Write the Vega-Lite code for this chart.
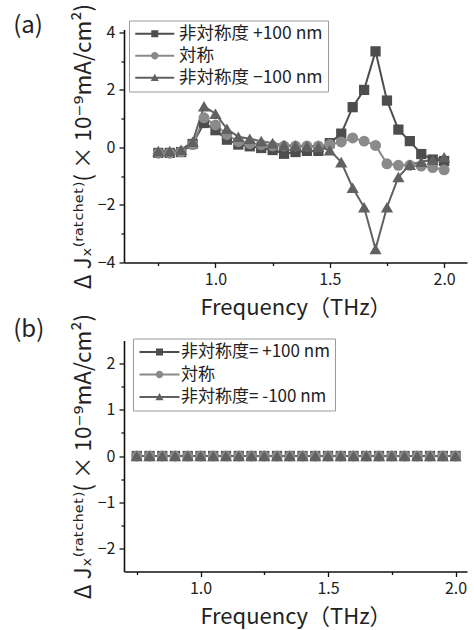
{
  "$schema": "https://vega.github.io/schema/vega-lite/v6.json",
  "background": "white",
  "padding": {"left": 13, "top": 2.5, "right": 5, "bottom": 5},
  "bounds": "flush",
  "spacing": 78,
  "config": {
    "font": "Noto Sans CJK JP",
    "view": {"stroke": null},
    "axis": {
      "grid": false, "domainColor": "#111", "domainWidth": 1.6, "tickColor": "#111", "tickWidth": 1.3,
      "labelFontSize": 16, "labelColor": "#222", "labelFont": "Noto Sans CJK JP", "labelPadding": 4,
      "titleFontSize": 22.5, "titleFontWeight": "normal", "titleColor": "#222", "titleFont": "'Noto Sans CJK JP', 'DejaVu Sans', sans-serif"
    },
    "legend": {
      "title": null, "orient": "none", "strokeColor": "#9a9a9a", "fillColor": "white", "padding": 4.5,
      "labelFontSize": 17.5, "labelColor": "#222", "labelFont": "Noto Sans CJK JP",
      "symbolSize": 196, "symbolStrokeWidth": 0, "symbolOffset": 0, "labelOffset": 28, "symbolOpacity": 1
    },
    "title": {"fontSize": 24, "fontWeight": "normal", "anchor": "start", "color": "#222", "font": "Noto Sans CJK JP", "frame": "bounds"}
  },
  "resolve": {"scale": {"color": "independent", "shape": "independent"}, "legend": {"color": "independent", "shape": "independent"}},
  "datasets": {
    "a": [
      {"s": "非対称度 +100 nm", "f": 0.75, "j": -0.19}, {"s": "非対称度 +100 nm", "f": 0.8, "j": -0.19}, {"s": "非対称度 +100 nm", "f": 0.85, "j": -0.16}, {"s": "非対称度 +100 nm", "f": 0.9, "j": 0.12}, {"s": "非対称度 +100 nm", "f": 0.95, "j": 0.85}, {"s": "非対称度 +100 nm", "f": 1.0, "j": 0.6}, {"s": "非対称度 +100 nm", "f": 1.05, "j": 0.27}, {"s": "非対称度 +100 nm", "f": 1.1, "j": 0.1}, {"s": "非対称度 +100 nm", "f": 1.15, "j": 0.04}, {"s": "非対称度 +100 nm", "f": 1.2, "j": -0.02}, {"s": "非対称度 +100 nm", "f": 1.25, "j": -0.09}, {"s": "非対称度 +100 nm", "f": 1.3, "j": -0.22}, {"s": "非対称度 +100 nm", "f": 1.35, "j": -0.16}, {"s": "非対称度 +100 nm", "f": 1.4, "j": -0.12}, {"s": "非対称度 +100 nm", "f": 1.45, "j": -0.12}, {"s": "非対称度 +100 nm", "f": 1.5, "j": 0.15}, {"s": "非対称度 +100 nm", "f": 1.55, "j": 0.48}, {"s": "非対称度 +100 nm", "f": 1.6, "j": 1.4}, {"s": "非対称度 +100 nm", "f": 1.65, "j": 2.0}, {"s": "非対称度 +100 nm", "f": 1.7, "j": 3.34}, {"s": "非対称度 +100 nm", "f": 1.75, "j": 1.63}, {"s": "非対称度 +100 nm", "f": 1.8, "j": 0.62}, {"s": "非対称度 +100 nm", "f": 1.85, "j": 0.22}, {"s": "非対称度 +100 nm", "f": 1.9, "j": -0.23}, {"s": "非対称度 +100 nm", "f": 1.95, "j": -0.42}, {"s": "非対称度 +100 nm", "f": 2.0, "j": -0.47},
      {"s": "対称", "f": 0.75, "j": -0.2}, {"s": "対称", "f": 0.8, "j": -0.2}, {"s": "対称", "f": 0.85, "j": -0.15}, {"s": "対称", "f": 0.9, "j": 0.1}, {"s": "対称", "f": 0.95, "j": 1.03}, {"s": "対称", "f": 1.0, "j": 0.78}, {"s": "対称", "f": 1.05, "j": 0.45}, {"s": "対称", "f": 1.1, "j": 0.2}, {"s": "対称", "f": 1.15, "j": 0.13}, {"s": "対称", "f": 1.2, "j": 0.1}, {"s": "対称", "f": 1.25, "j": 0.05}, {"s": "対称", "f": 1.3, "j": 0.05}, {"s": "対称", "f": 1.35, "j": 0.05}, {"s": "対称", "f": 1.4, "j": 0.05}, {"s": "対称", "f": 1.45, "j": 0.05}, {"s": "対称", "f": 1.5, "j": 0.1}, {"s": "対称", "f": 1.55, "j": 0.19}, {"s": "対称", "f": 1.6, "j": 0.33}, {"s": "対称", "f": 1.65, "j": 0.22}, {"s": "対称", "f": 1.7, "j": 0.07}, {"s": "対称", "f": 1.75, "j": -0.57}, {"s": "対称", "f": 1.8, "j": -0.62}, {"s": "対称", "f": 1.85, "j": -0.62}, {"s": "対称", "f": 1.9, "j": -0.65}, {"s": "対称", "f": 1.95, "j": -0.7}, {"s": "対称", "f": 2.0, "j": -0.78},
      {"s": "非対称度 −100 nm", "f": 0.75, "j": -0.13}, {"s": "非対称度 −100 nm", "f": 0.8, "j": -0.13}, {"s": "非対称度 −100 nm", "f": 0.85, "j": -0.08}, {"s": "非対称度 −100 nm", "f": 0.9, "j": 0.2}, {"s": "非対称度 −100 nm", "f": 0.95, "j": 1.43}, {"s": "非対称度 −100 nm", "f": 1.0, "j": 1.17}, {"s": "非対称度 −100 nm", "f": 1.05, "j": 0.65}, {"s": "非対称度 −100 nm", "f": 1.1, "j": 0.37}, {"s": "非対称度 −100 nm", "f": 1.15, "j": 0.3}, {"s": "非対称度 −100 nm", "f": 1.2, "j": 0.22}, {"s": "非対称度 −100 nm", "f": 1.25, "j": 0.15}, {"s": "非対称度 −100 nm", "f": 1.3, "j": 0.08}, {"s": "非対称度 −100 nm", "f": 1.35, "j": 0.06}, {"s": "非対称度 −100 nm", "f": 1.4, "j": 0.04}, {"s": "非対称度 −100 nm", "f": 1.45, "j": 0.02}, {"s": "非対称度 −100 nm", "f": 1.5, "j": -0.1}, {"s": "非対称度 −100 nm", "f": 1.55, "j": -0.51}, {"s": "非対称度 −100 nm", "f": 1.6, "j": -1.4}, {"s": "非対称度 −100 nm", "f": 1.65, "j": -2.08}, {"s": "非対称度 −100 nm", "f": 1.7, "j": -3.53}, {"s": "非対称度 −100 nm", "f": 1.75, "j": -2.08}, {"s": "非対称度 −100 nm", "f": 1.8, "j": -1.03}, {"s": "非対称度 −100 nm", "f": 1.85, "j": -0.6}, {"s": "非対称度 −100 nm", "f": 1.9, "j": -0.5}, {"s": "非対称度 −100 nm", "f": 1.95, "j": -0.43}, {"s": "非対称度 −100 nm", "f": 2.0, "j": -0.34}
    ],
    "b": [
      {"s": "非対称度= +100 nm", "f": 0.75, "j": 0}, {"s": "非対称度= +100 nm", "f": 0.8, "j": 0}, {"s": "非対称度= +100 nm", "f": 0.85, "j": 0}, {"s": "非対称度= +100 nm", "f": 0.9, "j": 0}, {"s": "非対称度= +100 nm", "f": 0.95, "j": 0}, {"s": "非対称度= +100 nm", "f": 1.0, "j": 0}, {"s": "非対称度= +100 nm", "f": 1.05, "j": 0}, {"s": "非対称度= +100 nm", "f": 1.1, "j": 0}, {"s": "非対称度= +100 nm", "f": 1.15, "j": 0}, {"s": "非対称度= +100 nm", "f": 1.2, "j": 0}, {"s": "非対称度= +100 nm", "f": 1.25, "j": 0}, {"s": "非対称度= +100 nm", "f": 1.3, "j": 0}, {"s": "非対称度= +100 nm", "f": 1.35, "j": 0}, {"s": "非対称度= +100 nm", "f": 1.4, "j": 0}, {"s": "非対称度= +100 nm", "f": 1.45, "j": 0}, {"s": "非対称度= +100 nm", "f": 1.5, "j": 0}, {"s": "非対称度= +100 nm", "f": 1.55, "j": 0}, {"s": "非対称度= +100 nm", "f": 1.6, "j": 0}, {"s": "非対称度= +100 nm", "f": 1.65, "j": 0}, {"s": "非対称度= +100 nm", "f": 1.7, "j": 0}, {"s": "非対称度= +100 nm", "f": 1.75, "j": 0}, {"s": "非対称度= +100 nm", "f": 1.8, "j": 0}, {"s": "非対称度= +100 nm", "f": 1.85, "j": 0}, {"s": "非対称度= +100 nm", "f": 1.9, "j": 0}, {"s": "非対称度= +100 nm", "f": 1.95, "j": 0}, {"s": "非対称度= +100 nm", "f": 2.0, "j": 0},
      {"s": "対称", "f": 0.75, "j": 0}, {"s": "対称", "f": 0.8, "j": 0}, {"s": "対称", "f": 0.85, "j": 0}, {"s": "対称", "f": 0.9, "j": 0}, {"s": "対称", "f": 0.95, "j": 0}, {"s": "対称", "f": 1.0, "j": 0}, {"s": "対称", "f": 1.05, "j": 0}, {"s": "対称", "f": 1.1, "j": 0}, {"s": "対称", "f": 1.15, "j": 0}, {"s": "対称", "f": 1.2, "j": 0}, {"s": "対称", "f": 1.25, "j": 0}, {"s": "対称", "f": 1.3, "j": 0}, {"s": "対称", "f": 1.35, "j": 0}, {"s": "対称", "f": 1.4, "j": 0}, {"s": "対称", "f": 1.45, "j": 0}, {"s": "対称", "f": 1.5, "j": 0}, {"s": "対称", "f": 1.55, "j": 0}, {"s": "対称", "f": 1.6, "j": 0}, {"s": "対称", "f": 1.65, "j": 0}, {"s": "対称", "f": 1.7, "j": 0}, {"s": "対称", "f": 1.75, "j": 0}, {"s": "対称", "f": 1.8, "j": 0}, {"s": "対称", "f": 1.85, "j": 0}, {"s": "対称", "f": 1.9, "j": 0}, {"s": "対称", "f": 1.95, "j": 0}, {"s": "対称", "f": 2.0, "j": 0},
      {"s": "非対称度= -100 nm", "f": 0.75, "j": 0}, {"s": "非対称度= -100 nm", "f": 0.8, "j": 0}, {"s": "非対称度= -100 nm", "f": 0.85, "j": 0}, {"s": "非対称度= -100 nm", "f": 0.9, "j": 0}, {"s": "非対称度= -100 nm", "f": 0.95, "j": 0}, {"s": "非対称度= -100 nm", "f": 1.0, "j": 0}, {"s": "非対称度= -100 nm", "f": 1.05, "j": 0}, {"s": "非対称度= -100 nm", "f": 1.1, "j": 0}, {"s": "非対称度= -100 nm", "f": 1.15, "j": 0}, {"s": "非対称度= -100 nm", "f": 1.2, "j": 0}, {"s": "非対称度= -100 nm", "f": 1.25, "j": 0}, {"s": "非対称度= -100 nm", "f": 1.3, "j": 0}, {"s": "非対称度= -100 nm", "f": 1.35, "j": 0}, {"s": "非対称度= -100 nm", "f": 1.4, "j": 0}, {"s": "非対称度= -100 nm", "f": 1.45, "j": 0}, {"s": "非対称度= -100 nm", "f": 1.5, "j": 0}, {"s": "非対称度= -100 nm", "f": 1.55, "j": 0}, {"s": "非対称度= -100 nm", "f": 1.6, "j": 0}, {"s": "非対称度= -100 nm", "f": 1.65, "j": 0}, {"s": "非対称度= -100 nm", "f": 1.7, "j": 0}, {"s": "非対称度= -100 nm", "f": 1.75, "j": 0}, {"s": "非対称度= -100 nm", "f": 1.8, "j": 0}, {"s": "非対称度= -100 nm", "f": 1.85, "j": 0}, {"s": "非対称度= -100 nm", "f": 1.9, "j": 0}, {"s": "非対称度= -100 nm", "f": 1.95, "j": 0}, {"s": "非対称度= -100 nm", "f": 2.0, "j": 0}
    ]
  },
  "vconcat": [
    {
      "width": 343, "height": 233,
      "title": {"text": "(a)", "dx": -59, "dy": 39},
      "data": {"name": "a"},
      "encoding": {
        "x": {"field": "f", "type": "quantitative", "scale": {"domain": [0.6, 2.1], "nice": false, "zero": false},
          "axis": {"values": [0.75, 1, 1.25, 1.5, 1.75, 2], "labelExpr": "datum.value % 0.5 === 0 ? format(datum.value, '.1f') : ''",
            "tickSize": {"condition": {"test": "datum.value % 0.5 !== 0", "value": 3}, "value": 5},
            "title": "Frequency（THz）", "titleFontSize": 22, "titlePadding": 10}},
        "y": {"field": "j", "type": "quantitative", "scale": {"domain": [-4, 4.1], "nice": false, "zero": false},
          "axis": {"values": [-4, -3, -2, -1, 0, 1, 2, 3, 4], "labelExpr": "datum.value % 2 === 0 ? format(datum.value, 'd') : ''",
            "tickSize": {"condition": {"test": "datum.value % 2 !== 0", "value": 3}, "value": 5},
            "title": "Δ Jₓ⁽ʳᵃᵗᶜʰᵉᵗ⁾( × 10⁻⁹mA/cm²)", "titlePadding": 2}}
      },
      "layer": [
        {"transform": [{"filter": "datum.s === '非対称度 +100 nm'"}], "mark": {"type": "line", "strokeWidth": 2, "color": "#4d4d4d"}},
        {"transform": [{"filter": "datum.s === '対称'"}], "mark": {"type": "line", "strokeWidth": 2, "color": "#8a8a8a"}},
        {"transform": [{"filter": "datum.s === '非対称度 −100 nm'"}], "mark": {"type": "line", "strokeWidth": 2, "color": "#616161"}},
        {"transform": [{"filter": "datum.s === '非対称度 +100 nm'"}], "mark": {"type": "point", "filled": true, "shape": "square", "size": 105, "opacity": 1, "color": "#4d4d4d"}},
        {"transform": [{"filter": "datum.s === '対称'"}], "mark": {"type": "point", "filled": true, "shape": "circle", "size": 120, "opacity": 1, "color": "#8a8a8a"}},
        {"transform": [{"filter": "datum.s === '非対称度 −100 nm'"}], "mark": {"type": "point", "filled": true, "shape": "triangle-up", "size": 150, "opacity": 1, "color": "#616161"}},
        {"mark": {"type": "point", "filled": true, "opacity": 0, "size": 1},
          "encoding": {
            "color": {"field": "s", "type": "nominal", "scale": {"domain": ["非対称度 +100 nm", "対称", "非対称度 −100 nm"], "range": ["#4d4d4d", "#8a8a8a", "#616161"]},
              "legend": {"legendX": 5, "legendY": -9, "rowPadding": 3, "padding": 4.5, "symbolOpacity": 1}},
            "shape": {"field": "s", "type": "nominal", "scale": {"domain": ["非対称度 +100 nm", "対称", "非対称度 −100 nm"],
              "range": ["M-1,-0.14H4.57V0.14H-1Z M1.29,-0.5H2.29V0.5H1.29Z", "M-1,-0.14H4.57V0.14H-1Z M1.26,0A0.53,0.53 0 1,1 2.32,0A0.53,0.53 0 1,1 1.26,0Z", "M-1,-0.14H4.57V0.14H-1Z M1.79,-0.58L2.37,0.45H1.21Z"]},
              "legend": {"legendX": 5, "legendY": -9, "rowPadding": 3, "padding": 4.5, "symbolOpacity": 1}}
          }}
      ]
    },
    {
      "width": 343, "height": 231,
      "title": {"text": "(b)", "dx": -59, "dy": 33},
      "data": {"name": "b"},
      "encoding": {
        "x": {"field": "f", "type": "quantitative", "scale": {"domain": [0.7, 2.045], "nice": false, "zero": false},
          "axis": {"values": [0.75, 1, 1.25, 1.5, 1.75, 2], "labelExpr": "datum.value % 0.5 === 0 ? format(datum.value, '.1f') : ''",
            "tickSize": {"condition": {"test": "datum.value % 0.5 !== 0", "value": 3}, "value": 5},
            "title": "Frequency（THz）", "titleFontSize": 22, "titlePadding": 10}},
        "y": {"field": "j", "type": "quantitative", "scale": {"domain": [-2.5, 2.5], "nice": false, "zero": false},
          "axis": {"values": [-2, -1.5, -1, -0.5, 0, 0.5, 1, 1.5, 2], "labelExpr": "datum.value % 1 === 0 ? format(datum.value, 'd') : ''",
            "tickSize": {"condition": {"test": "datum.value % 1 !== 0", "value": 3}, "value": 5},
            "title": "Δ Jₓ⁽ʳᵃᵗᶜʰᵉᵗ⁾( × 10⁻⁹mA/cm²)", "titlePadding": 2}}
      },
      "layer": [
        {"transform": [{"filter": "datum.s === '非対称度= +100 nm'"}], "mark": {"type": "line", "strokeWidth": 2, "color": "#4d4d4d"}},
        {"transform": [{"filter": "datum.s === '対称'"}], "mark": {"type": "line", "strokeWidth": 2, "color": "#8a8a8a"}},
        {"transform": [{"filter": "datum.s === '非対称度= -100 nm'"}], "mark": {"type": "line", "strokeWidth": 2, "color": "#616161"}},
        {"transform": [{"filter": "datum.s === '非対称度= +100 nm'"}], "mark": {"type": "point", "filled": true, "shape": "square", "size": 105, "opacity": 1, "color": "#4d4d4d"}},
        {"transform": [{"filter": "datum.s === '対称'"}], "mark": {"type": "point", "filled": true, "shape": "circle", "size": 120, "opacity": 1, "color": "#8a8a8a"}},
        {"transform": [{"filter": "datum.s === '非対称度= -100 nm'"}], "mark": {"type": "point", "filled": true, "shape": "triangle-up", "size": 150, "opacity": 1, "color": "#616161"}},
        {"mark": {"type": "point", "filled": true, "opacity": 0, "size": 1},
          "encoding": {
            "color": {"field": "s", "type": "nominal", "scale": {"domain": ["非対称度= +100 nm", "対称", "非対称度= -100 nm"], "range": ["#4d4d4d", "#8a8a8a", "#616161"]},
              "legend": {"legendX": 9, "legendY": -2, "rowPadding": 4.5, "padding": 5, "labelFontSize": 17, "labelOffset": 26, "symbolOpacity": 1}},
            "shape": {"field": "s", "type": "nominal", "scale": {"domain": ["非対称度= +100 nm", "対称", "非対称度= -100 nm"],
              "range": ["M-1,-0.14H4.71V0.14H-1Z M1.36,-0.5H2.36V0.5H1.36Z", "M-1,-0.14H4.71V0.14H-1Z M1.33,0A0.53,0.53 0 1,1 2.39,0A0.53,0.53 0 1,1 1.33,0Z", "M-1,-0.14H4.71V0.14H-1Z M1.86,-0.58L2.44,0.45H1.28Z"]},
              "legend": {"legendX": 9, "legendY": -2, "rowPadding": 4.5, "padding": 5, "labelFontSize": 17, "labelOffset": 26, "symbolOpacity": 1}}
          }}
      ]
    }
  ]
}
